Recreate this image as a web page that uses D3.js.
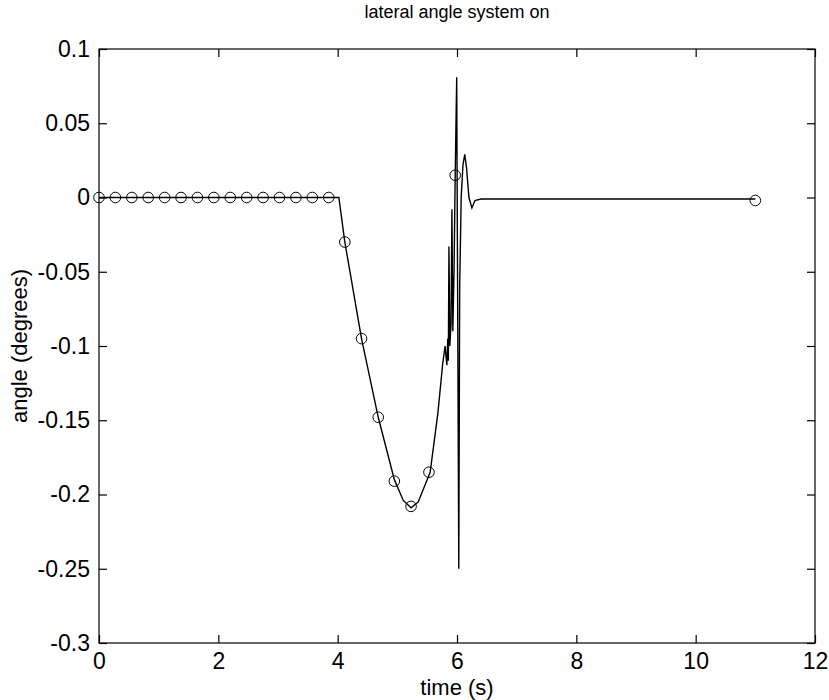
<!DOCTYPE html>
<html>
<head>
<meta charset="utf-8">
<script src="https://cdn.jsdelivr.net/npm/d3@7/dist/d3.min.js"></script>
<style>
  html, body { margin: 0; padding: 0; background: #fff; }
  svg { display: block; }
  text { font-family: "Liberation Sans", Arial, sans-serif; fill: #000; }
</style>
</head>
<body>
<svg id="chart" width="829" height="700"></svg>
<script>
// ---- data ----
const chartTitle = "lateral angle system on";
const xLabel = "time (s)";
const yLabel = "angle (degrees)";
const xTicks = [0, 2, 4, 6, 8, 10, 12];
const yTicks = [0.1, 0.05, 0, -0.05, -0.1, -0.15, -0.2, -0.25, -0.3];
const yTickLabels = ["0.1", "0.05", "0", "-0.05", "-0.1", "-0.15", "-0.2", "-0.25", "-0.3"];

// solid response line (time, angle)
const lineTime = [0, 3.9, 4.02, 4.12, 4.4, 4.68, 4.95, 5.1, 5.23, 5.35, 5.55, 5.68, 5.76, 5.8,
  5.83, 5.845, 5.855, 5.865, 5.88, 5.9, 5.915, 5.93, 5.95, 5.97, 5.995, 6.03, 6.045, 6.07,
  6.1, 6.13, 6.16, 6.2, 6.25, 6.3, 6.4, 11];
const lineAngle = [0, 0, 0, -0.03, -0.095, -0.148, -0.19, -0.204, -0.209, -0.205, -0.185, -0.145, -0.112, -0.1,
  -0.113, -0.095, -0.11, -0.033, -0.1, -0.085, -0.008, -0.09, -0.05, 0.015, 0.081, -0.25, -0.06, 0.0,
  0.022, 0.029, 0.02, 0.0, -0.007, -0.002, -0.001, -0.001];

// circle markers (time, angle)
const markerTime = [0, 0.275, 0.55, 0.825, 1.1, 1.375, 1.65, 1.925, 2.2, 2.475, 2.75, 3.025, 3.3, 3.575, 3.85,
  4.12, 4.4, 4.68, 4.95, 5.23, 5.53, 5.97, 11];
const markerAngle = [0, 0, 0, 0, 0, 0, 0, 0, 0, 0, 0, 0, 0, 0, 0,
  -0.03, -0.095, -0.148, -0.191, -0.208, -0.185, 0.015, -0.002];

// ---- drawing ----
const svg = d3.select("#chart");
const mLeft = 99, mRight = 815, mTop = 49, mBottom = 643;
const x = d3.scaleLinear().domain([0, 12]).range([mLeft, mRight]);
const y = d3.scaleLinear().domain([-0.3, 0.1]).range([mBottom, mTop]);

const tickLen = 8;
const fs = 23;
const font = "'Liberation Sans', Arial, sans-serif";

svg.append("rect").attr("x", mLeft).attr("y", mTop).attr("width", mRight - mLeft).attr("height", mBottom - mTop)
  .attr("fill", "none").attr("stroke", "#000").attr("stroke-width", 1.2);

const gx = svg.append("g").attr("transform", `translate(0,${mBottom})`)
  .call(d3.axisBottom(x).tickValues(xTicks).tickSize(-tickLen).tickPadding(10).tickFormat(d3.format("d")));
const gxt = svg.append("g").attr("transform", `translate(0,${mTop})`)
  .call(d3.axisTop(x).tickValues(xTicks).tickSize(-tickLen).tickFormat(""));
const gy = svg.append("g").attr("transform", `translate(${mLeft},0)`)
  .call(d3.axisLeft(y).tickValues(yTicks).tickSize(-tickLen).tickPadding(9)
    .tickFormat((d, i) => yTickLabels[i]));
const gyr = svg.append("g").attr("transform", `translate(${mRight},0)`)
  .call(d3.axisRight(y).tickValues(yTicks).tickSize(-tickLen).tickFormat(""));

[gx, gxt, gy, gyr].forEach(g => {
  g.select(".domain").remove();
  g.selectAll(".tick line").attr("stroke", "#000").attr("stroke-width", 1.2);
  g.selectAll("text").attr("font-size", fs).attr("font-family", font).attr("fill", "#000");
});

// line
const pts = lineTime.map((t, i) => [t, lineAngle[i]]);
svg.append("path").datum(pts)
  .attr("d", d3.line().x(d => x(d[0])).y(d => y(d[1])))
  .attr("fill", "none").attr("stroke", "#000").attr("stroke-width", 1.4).attr("stroke-linejoin", "miter");

// markers
svg.append("g").selectAll("circle").data(markerTime.map((t, i) => [t, markerAngle[i]])).join("circle")
  .attr("cx", d => x(d[0])).attr("cy", d => y(d[1])).attr("r", 5.3)
  .attr("fill", "none").attr("stroke", "#000").attr("stroke-width", 1);

// title & labels
svg.append("text").attr("x", (mLeft + mRight) / 2).attr("y", 18).attr("text-anchor", "middle")
  .attr("font-size", 18).text(chartTitle);
svg.append("text").attr("x", (mLeft + mRight) / 2).attr("y", 695).attr("text-anchor", "middle")
  .attr("font-size", 22).text(xLabel);
svg.append("text").attr("transform", `translate(27,${(mTop + mBottom) / 2}) rotate(-90)`)
  .attr("text-anchor", "middle").attr("font-size", 22).text(yLabel);
</script>
</body>
</html>
